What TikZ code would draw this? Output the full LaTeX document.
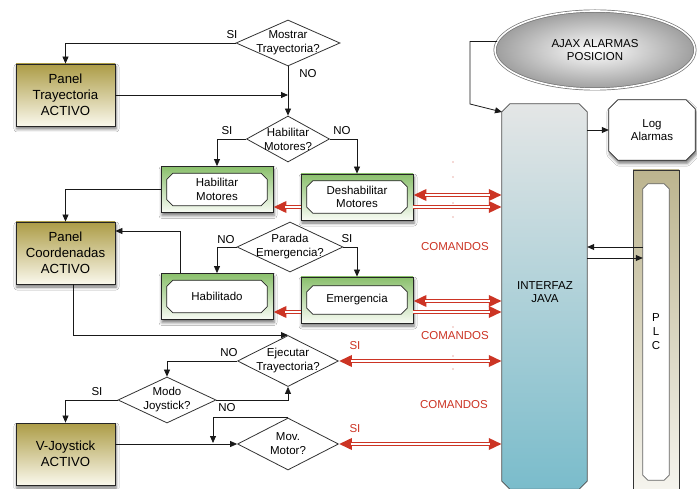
\documentclass[tikz,border=0pt]{standalone}
\usepackage{fontspec}
\setmainfont{Liberation Sans}
\usetikzlibrary{shapes.geometric,arrows.meta,shadows.blur}

\definecolor{gold}{RGB}{172,156,70}
\definecolor{goldlight}{RGB}{250,248,236}
\definecolor{grn}{RGB}{138,192,108}
\definecolor{grnlight}{RGB}{248,251,244}
\definecolor{cmdred}{RGB}{204,52,36}
\definecolor{javatop}{RGB}{228,230,230}
\definecolor{javabot}{RGB}{122,188,203}
\definecolor{plctop}{RGB}{188,180,142}
\definecolor{plcbot}{RGB}{247,246,241}

% octagonal outline (cut corners) around the frame of node #1, cut size #2, path options #3
\newcommand\chambox[3]{%
  \path[#3] ([xshift=#2]#1.north west) -- ([xshift=-#2]#1.north east)
    -- ([yshift=-#2]#1.north east) -- ([yshift=#2]#1.south east)
    -- ([xshift=-#2]#1.south east) -- ([xshift=#2]#1.south west)
    -- ([yshift=#2]#1.south west) -- ([yshift=-#2]#1.north west) -- cycle;}

\begin{document}
\begin{tikzpicture}[x=1pt,y=-1pt,
  font=\fontsize{11.5}{13.5}\selectfont,
  softshadow/.style={blur shadow={shadow xshift=1pt, shadow yshift=-3pt, shadow blur radius=3pt, shadow opacity=55}},
  arr/.style={draw=black!90, line width=0.8pt, -{Triangle[length=7pt,width=6pt]}},
  panel/.style={draw=black!85, line width=0.8pt, top color=gold, bottom color=goldlight,
    minimum width=99pt, minimum height=62pt, inner sep=0pt, align=center,
    font=\fontsize{13.2}{16}\selectfont, softshadow},
  gbox/.style={draw=black!85, line width=0.8pt, top color=grn, bottom color=grnlight,
    minimum width=112pt, minimum height=46pt, inner sep=0pt, softshadow},
  frame/.style={inner sep=0pt},
  iline/.style={draw=black!85, line width=0.8pt, fill=white},
  btext/.style={align=center, inner sep=0pt},
  dia/.style={diamond, draw=black!80, line width=0.8pt, inner sep=0pt},
  dtext/.style={align=center, inner sep=0pt, font=\fontsize{11.5}{14}\selectfont},
  lbl/.style={inner sep=0pt},
  rlbl/.style={inner sep=0pt, text=cmdred},
  rarr/.style={draw=cmdred, line width=4pt, -{Triangle[length=13pt,width=11pt]}},
  rboth/.style={draw=cmdred, line width=4pt, {Triangle[length=13pt,width=11pt]}-{Triangle[length=13pt,width=11pt]}},
  rgap/.style={draw=white, line width=1.3pt},
  ajax/.style={ellipse, draw=black!55, line width=0.7pt, double=white, double distance=1.6pt,
    inner color=white, outer color=black!38, minimum width=200pt, minimum height=78pt,
    inner sep=0pt, align=center},
  plcout/.style={draw=black!80, line width=0.8pt, top color=plctop, bottom color=plcbot,
    minimum width=46pt, minimum height=330pt, inner sep=0pt}
]
\path[fill=white, use as bounding box] (0,0) rectangle (697,489);

% ---- right column: Java interface, AJAX, log and PLC ----
\node[plcout] (plo) at (656,335) {};
\node[frame, minimum width=26pt, minimum height=296pt] (pli) at (656,332) {};
\chambox{pli}{5pt}{draw=black!60, line width=0.8pt, fill=white}
\node[btext, font=\fontsize{11.5}{14}\selectfont] (plt) at (pli) {P\\L\\C};

\node[frame, minimum width=85pt, minimum height=385pt] (ij) at (544.5,296.5) {};
\chambox{ij}{8pt}{draw=black!70, line width=0.8pt, top color=javatop, bottom color=javabot}
\node[btext] (ijt) at (545,292) {INTERFAZ\\JAVA};

\node[ajax] (aj) at (595,50) {AJAX ALARMAS\\POSICION};

\node[frame, minimum width=86pt, minimum height=60pt] (lg) at (652,130) {};
\chambox{lg}{9pt}{draw=black!85, line width=0.8pt, fill=white, softshadow}
\node[btext] (lgt) at (lg) {Log\\Alarmas};

% ---- panels ----
\node[panel] (pt) at (65.5,95) {Panel\\Trayectoria\\ACTIVO};
\node[panel] (pc) at (65.5,253) {Panel\\Coordenadas\\ACTIVO};
\node[panel] (vj) at (65.5,454) {V-Joystick\\ACTIVO};

% ---- state boxes: green frame with a cut-corner label plate ----
\node[gbox] (hm) at (217,189.5) {};
\node[frame, minimum width=100pt, minimum height=32pt] (hmi) at (hm) {};
\chambox{hmi}{6pt}{iline}
\node[btext] (hmt) at (hmi) {Habilitar\\Motores};

\node[gbox] (dm) at (357,197) {};
\node[frame, minimum width=100pt, minimum height=32pt] (dmi) at (dm) {};
\chambox{dmi}{6pt}{iline}
\node[btext] (dmt) at (dmi) {Deshabilitar\\Motores};

\node[gbox] (hb) at (217,296.5) {};
\node[frame, minimum width=100pt, minimum height=32pt] (hbi) at (hb) {};
\chambox{hbi}{6pt}{iline}
\node[btext] (hbt) at (hbi) {Habilitado};

\node[gbox] (em) at (357,300) {};
\node[frame, minimum width=100pt, minimum height=28pt] (emi) at (em) {};
\chambox{emi}{6pt}{iline}
\node[btext] (emt) at (emi) {Emergencia};

% ---- decisions ----
\node[dia, minimum width=104pt, minimum height=46pt] (d1) at (288,43) {};
\node[dtext] (d1t) at (d1) {Mostrar\\Trayectoria?};
\node[dia, minimum width=83pt, minimum height=46pt] (d2) at (288,139) {};
\node[dtext] (d2t) at (d2) {Habilitar\\Motores?};
\node[dia, minimum width=106pt, minimum height=50pt] (d3) at (290,247) {};
\node[dtext] (d3t) at (d3) {Parada\\Emergencia?};
\node[dia, minimum width=101pt, minimum height=51pt] (d4) at (288,361) {};
\node[dtext] (d4t) at (d4) {Ejecutar\\Trayectoria?};
\node[dia, minimum width=98pt, minimum height=46pt] (d5) at (167,400) {};
\node[dtext] (d5t) at (d5) {Modo\\Joystick?};
\node[dia, minimum width=101pt, minimum height=52pt] (d6) at (288,444) {};
\node[dtext] (d6t) at (d6) {Mov.\\Motor?};

% ---- branch labels ----
\node[lbl] (l1) at (232,35) {SI};
\node[lbl] (l2) at (308,74) {NO};
\node[lbl] (l3) at (227,131) {SI};
\node[lbl] (l4) at (342,131) {NO};
\node[lbl] (l5) at (226,240) {NO};
\node[lbl] (l6) at (347,239) {SI};
\node[lbl] (l7) at (229,353) {NO};
\node[lbl] (l8) at (97,392) {SI};
\node[lbl] (l9) at (227,408) {NO};
\node[rlbl] (r1) at (355,346) {SI};
\node[rlbl] (r2) at (355,429) {SI};
\node[rlbl] (c1) at (455,247) {COMANDOS};
\node[rlbl] (c2) at (455,336) {COMANDOS};
\node[rlbl] (c3) at (454,405) {COMANDOS};

% faint dotted trace between the command arrows
\foreach \yy in {162,177,203,217,327,356,369}
  \fill[cmdred!80] (453,\yy) circle (0.6pt);

% ---- helper coordinates ----
\coordinate (j1) at (288,95);
\coordinate (j2) at (213,443);
\coordinate (ajbend) at (470,104);
\coordinate (ajin) at (502,112);
\coordinate (yp1) at (0,247);
\coordinate (yp2) at (0,258);
\coordinate (ya) at (0,195);
\coordinate (yb) at (0,207);
\coordinate (yc) at (0,301);
\coordinate (yd) at (0,312);

% ---- black flow connectors ----
\draw[arr] (d1.west) -| (pt.north);
\draw[arr] (d1.south) -- (d2.north);
\draw[arr] (pt.east) -- (j1);
\draw[arr] (d2.west) -| (hm.north);
\draw[arr] (d2.east) -| (dm.north);
\draw[arr] (hm.west) -| (pc.north);
\draw[arr] ([xshift=-37pt]hb.north) |- ([yshift=22pt]pc.east);
\draw[arr] (d3.west) -| (hb.north);
\draw[arr] (d3.east) -| (em.north);
\draw[arr] ([xshift=8pt]pc.south) |- (d4.north);
\draw[arr] (d4.west) -| (d5.north);
\draw[arr] (d5.east) -| (d4.south);
\draw[arr] (d5.west) -| (vj.north);
\draw[arr] (vj.east |- d6.west) -- (d6.west);
\draw[arr] (d6.north) -| (j2);
\draw[arr] (aj.175) -| (ajbend) -- (ajin);
\draw[arr] (ij.east |- lg.west) -- (lg.west);
\draw[arr] (pli.west |- yp1) -- (ij.east |- yp1);
\draw[arr] (ij.east |- yp2) -- (pli.west |- yp2);

% ---- red command links (double lines) ----
\draw[rboth] (dm.east |- ya) -- (ij.west |- ya);
\draw[rgap, shorten <=12pt, shorten >=12pt] (dm.east |- ya) -- (ij.west |- ya);
\draw[rarr] (dm.east |- yb) -- (ij.west |- yb);
\draw[rgap, shorten >=12pt] (dm.east |- yb) -- (ij.west |- yb);
\draw[rarr] (dm.west |- yb) -- (hm.east |- yb);
\draw[rgap, shorten >=12pt] (dm.west |- yb) -- (hm.east |- yb);

\draw[rboth] (em.east |- yc) -- (ij.west |- yc);
\draw[rgap, shorten <=12pt, shorten >=12pt] (em.east |- yc) -- (ij.west |- yc);
\draw[rarr] (em.east |- yd) -- (ij.west |- yd);
\draw[rgap, shorten >=12pt] (em.east |- yd) -- (ij.west |- yd);
\draw[rarr] (em.west |- yd) -- (hb.east |- yd);
\draw[rgap, shorten >=12pt] (em.west |- yd) -- (hb.east |- yd);

\draw[rboth] (d4.east) -- (ij.west |- d4.east);
\draw[rgap, shorten <=12pt, shorten >=12pt] (d4.east) -- (ij.west |- d4.east);
\draw[rboth] (d6.east) -- (ij.west |- d6.east);
\draw[rgap, shorten <=12pt, shorten >=12pt] (d6.east) -- (ij.west |- d6.east);
\end{tikzpicture}
\end{document}
